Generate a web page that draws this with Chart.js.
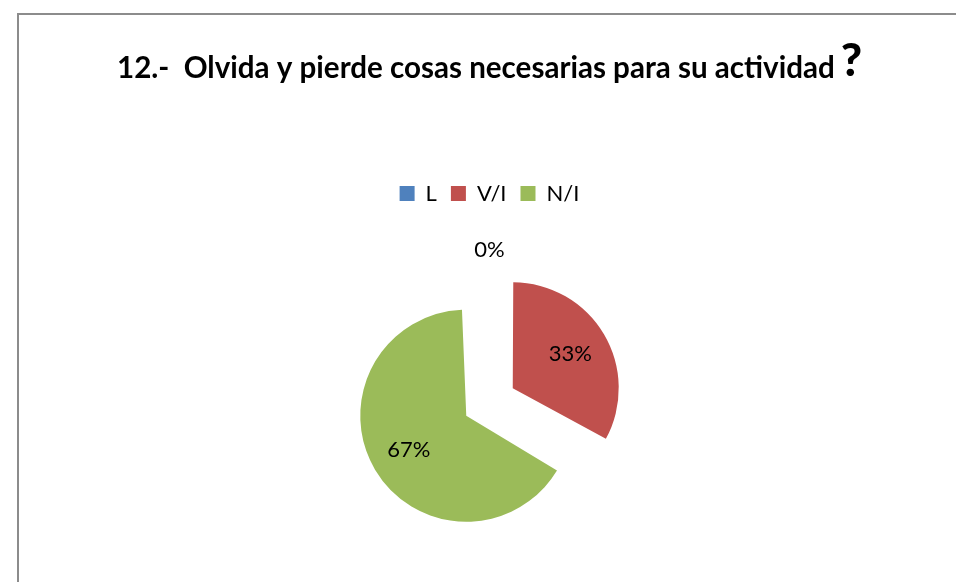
<!DOCTYPE html>
<html>
<head>
<meta charset="utf-8">
<script src="https://cdn.jsdelivr.net/npm/chart.js@4.4.0/dist/chart.umd.min.js"></script>
<style>
html,body{margin:0;padding:0;background:#fff;}
#contenedor{width:956px;height:582px;overflow:hidden;position:relative;}
</style>
</head>
<body>
<div id="contenedor"><canvas id="grafica" width="956" height="620"></canvas></div>
<script>
var TITULO = "12.-  Olvida y pierde cosas necesarias para su actividad";
var ETIQUETAS = ["L", "V/I", "N/I"];
var VALORES = [0, 33, 67];
var COLORES = ["#4F81BD", "#C0504D", "#9BBB59"];

// marco gris del area del grafico
var pluginMarco = {
	id: "marco",
	beforeDraw: function(chart){
		var ctx = chart.ctx;
		ctx.save();
		ctx.fillStyle = "#fff";
		ctx.fillRect(0, 0, chart.width, chart.height);
		ctx.strokeStyle = "#8c8c8c";
		ctx.lineWidth = 2;
		ctx.beginPath();
		ctx.moveTo(18, chart.height);
		ctx.lineTo(18, 14);
		ctx.lineTo(chart.width, 14);
		ctx.stroke();
		ctx.restore();
	}
};

// titulo con el signo de interrogacion mas grande
var pluginTitulo = {
	id: "tituloGrande",
	afterDraw: function(chart){
		var ctx = chart.ctx;
		ctx.save();
		ctx.font = "bold 100px Lato";
		var w = ctx.measureText(TITULO).width;
		var size = 100 * 718 / w;
		ctx.font = "bold " + size + "px Lato";
		ctx.fillStyle = "#000";
		ctx.textAlign = "left";
		ctx.textBaseline = "alphabetic";
		ctx.fillText(TITULO, 117, 78);
		var ancho = ctx.measureText(TITULO).width;
		ctx.font = "900 46px Lato";
		ctx.fillText("?", 117 + ancho + 6, 76);
		ctx.restore();
	}
};

// chart.js v4 desplaza cada arco offset/4 y ademas agranda el radio
// (offset/4 * fix); se compensa para que todas las porciones tengan el mismo radio
function fixArco(arc){
	var c = arc.endAngle - arc.startAngle;
	return 1 - Math.sin(Math.min(Math.PI, c || 0));
}

var pluginPorcentajes = {
	id: "porcentajes",
	beforeDatasetsDraw: function(chart){
		var meta = chart.getDatasetMeta(0);
		meta.data.forEach(function(arc){
			var off = (arc.options.offset || 0) / 4;
			arc.$radioBase = arc.outerRadius;
			arc.outerRadius = arc.outerRadius - off * fixArco(arc);
		});
	},
	afterDatasetsDraw: function(chart){
		var ctx = chart.ctx;
		var meta = chart.getDatasetMeta(0);
		var total = VALORES.reduce(function(a, b){ return a + b; }, 0);
		ctx.save();
		ctx.font = "22px Lato";
		ctx.fillStyle = "#000";
		ctx.textAlign = "center";
		ctx.textBaseline = "middle";
		for (var i = 0; i < meta.data.length; i++){
			var arc = meta.data[i];
			if (arc.$radioBase !== undefined){
				arc.outerRadius = arc.$radioBase;
			}
			var off = (arc.options.offset || 0) / 4;
			var medio = (arc.startAngle + arc.endAngle) / 2;
			var dist;
			if (VALORES[i] == 0){
				dist = arc.outerRadius + off + 19;
			}else{
				dist = off + arc.outerRadius * 0.63;
			}
			var tx = arc.x + Math.cos(medio) * dist;
			var ty = arc.y + Math.sin(medio) * dist;
			var pct = Math.round(VALORES[i] / total * 100);
			ctx.fillText(pct + "%", tx, ty);
		}
		ctx.restore();
	}
};

var config = {
	type: "pie",
	data: {
		labels: ETIQUETAS,
		datasets: [{
			data: VALORES,
			backgroundColor: COLORES,
			borderWidth: 0,
			offset: 108,
			hoverOffset: 0,
			radius: 106
		}]
	},
	options: {
		responsive: false,
		animation: false,
		events: [],
		layout: {
			padding: {top: 168.5, left: 23, right: 0, bottom: 30.5}
		},
		plugins: {
			legend: {
				position: "top",
				labels: {
					boxWidth: 15,
					boxHeight: 15,
					padding: 14,
					color: "#000",
					font: {family: "Lato", size: 22}
				}
			},
			title: {display: false},
			tooltip: {enabled: false}
		}
	},
	plugins: [pluginMarco, pluginTitulo, pluginPorcentajes]
};

new Chart(document.getElementById("grafica").getContext("2d"), config);
</script>
</body>
</html>
